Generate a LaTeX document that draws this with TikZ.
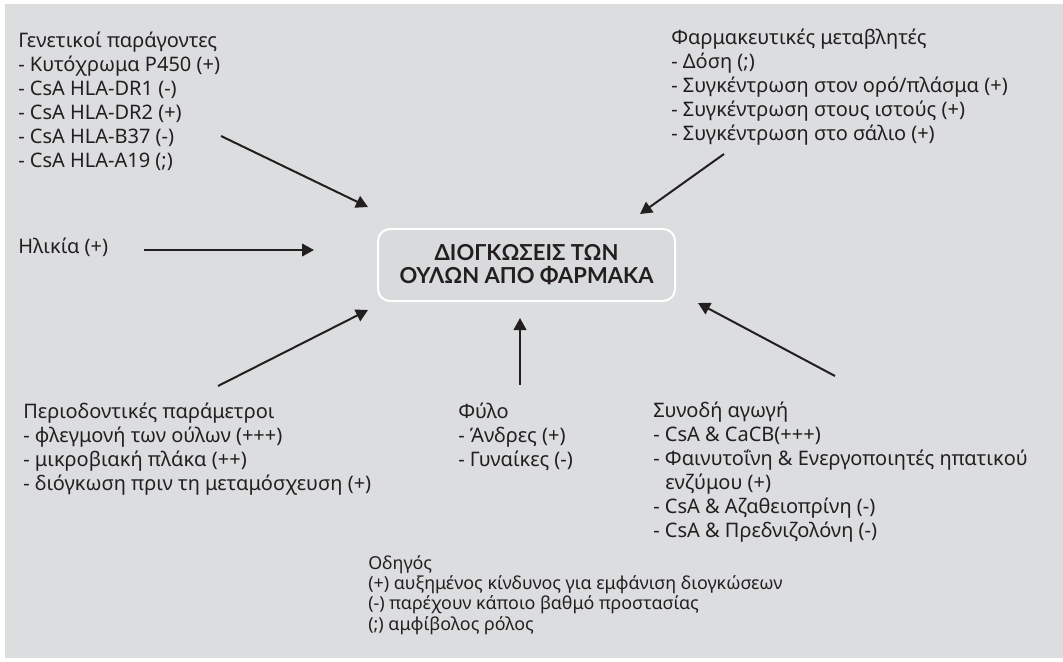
\documentclass[tikz,border=0pt]{standalone}
\usepackage{fontspec}
\setmainfont{Noto Sans}
\newfontfamily\titlefont{Lato}
\usetikzlibrary{arrows.meta}
\definecolor{bg}{HTML}{DCDDDF}
\definecolor{ink}{HTML}{231F20}
\definecolor{boxfill}{HTML}{D9DADC}
\tikzset{
  blk/.style={anchor=north west, inner sep=0pt, align=left, font=\fontsize{15}{18.1}\selectfont, text=ink},
  legendblk/.style={blk, font=\fontsize{13.4}{15.2}\selectfont},
  arr/.style={draw=ink, line width=1.5pt, -{Triangle[length=9pt,width=9.5pt]}},
  centerbox/.style={draw=white, line width=1.5pt, fill=boxfill, rounded corners=9pt,
    minimum width=222.75pt, minimum height=54pt, align=center, inner sep=0pt,
    font=\titlefont\bfseries\fontsize{16.5}{17.25}\selectfont, text=ink},
}
\newcommand{\st}{\rule{0pt}{12pt}}
\begin{document}
\begin{tikzpicture}[x=0.75pt,y=-0.75pt]
\useasboundingbox (0,0) rectangle (1063,661);
\fill[white] (0,0) rectangle (1063,661);
\fill[bg] (5,4) rectangle (1063,658);

\node[centerbox] (main) at (526.5,265) {ΔΙΟΓΚΩΣΕΙΣ ΤΩΝ\\ΟΥΛΩΝ ΑΠΟ ΦΑΡΜΑΚΑ};

\node[blk] (gen) at (18,31) {\st Γενετικοί παράγοντες\\- Κυτόχρωμα P450 (+)\\- CsA HLA-DR1 (-)\\- CsA HLA-DR2 (+)\\- CsA HLA-B37 (-)\\- CsA HLA-A19 (;)};
\node[blk] (pharm) at (671,28) {\st Φαρμακευτικές μεταβλητές\\- Δόση (;)\\- Συγκέντρωση στον ορό/πλάσμα (+)\\- Συγκέντρωση στους ιστούς (+)\\- Συγκέντρωση στο σάλιο (+)};
\node[blk] (age) at (18,237) {\st Ηλικία (+)};
\node[blk] (perio) at (23,402) {\st Περιοδοντικές παράμετροι\\- φλεγμονή των ούλων (+++)\\- μικροβιακή πλάκα (++)\\- διόγκωση πριν τη μεταμόσχευση (+)};
\node[blk] (sex) at (458,402) {\st Φύλο\\- Άνδρες (+)\\- Γυναίκες (-)};
\node[blk] (conc) at (653,401) {\st Συνοδή αγωγή\\- CsA \& CaCB(+++)\\- Φαινυτοΐνη \& Ενεργοποιητές ηπατικού\\\hspace*{9pt}ενζύμου (+)\\- CsA \& Αζαθειοπρίνη (-)\\- CsA \& Πρεδνιζολόνη (-)};
\node[legendblk] (legend) at (368,553) {\st Οδηγός\\(+) αυξημένος κίνδυνος για εμφάνιση διογκώσεων\\(-) παρέχουν κάποιο βαθμό προστασίας\\(;) αμφίβολος ρόλος};

\coordinate (gs) at (221,136); \coordinate (ge) at (368,207);
\coordinate (ps) at (724,154); \coordinate (pe) at (640,214);
\coordinate (as) at (144,250); \coordinate (ae) at (314,250);
\coordinate (rs) at (218,386); \coordinate (re) at (368,310);
\coordinate (ss) at (520,385); \coordinate (se) at (520,318);
\coordinate (cs) at (835,376); \coordinate (ce) at (698,303);

\draw[arr] (gs) -- (ge);
\draw[arr] (ps) -- (pe);
\draw[arr] (as) -- (ae);
\draw[arr] (rs) -- (re);
\draw[arr] (ss) -- (se);
\draw[arr] (cs) -- (ce);
\end{tikzpicture}
\end{document}
